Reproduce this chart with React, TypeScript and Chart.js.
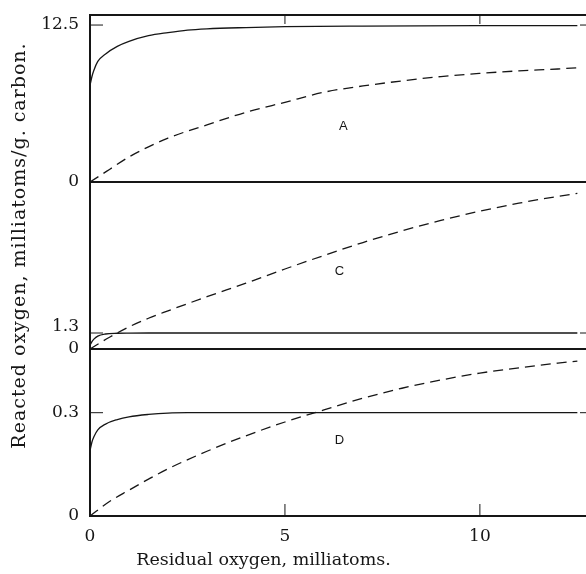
import React, { useEffect, useRef } from 'react';
import { Chart, registerables } from 'chart.js';

Chart.register(...registerables);

// ---- data ----
const xSolid = [0, 0.05, 0.1, 0.2, 0.4, 0.7, 1, 1.5, 2, 2.5, 3, 4, 5, 7, 10, 12.5];
const solidA = [7.7, 8.4, 8.9, 9.6, 10.2, 10.8, 11.2, 11.65, 11.9, 12.1, 12.2, 12.3, 12.37, 12.42, 12.45, 12.45];
const solidC = [0.3, 0.6, 0.8, 1.05, 1.22, 1.28, 1.295, 1.3, 1.3, 1.3, 1.3, 1.3, 1.3, 1.3, 1.3, 1.3];
const solidD = [0.19, 0.215, 0.23, 0.25, 0.267, 0.28, 0.288, 0.295, 0.299, 0.3, 0.3, 0.3, 0.3, 0.3, 0.3, 0.3];

const xDashed = [0, 0.5, 1, 1.5, 2, 3, 4, 5, 6, 7, 8, 9, 10, 11, 12, 12.5];
const dashedA = [0, 1.0, 2.0, 2.8, 3.5, 4.55, 5.55, 6.35, 7.15, 7.65, 8.05, 8.4, 8.65, 8.85, 9.0, 9.1];
const dashedC = [0, 0.95, 1.8, 2.5, 3.1, 4.25, 5.35, 6.5, 7.6, 8.65, 9.6, 10.45, 11.2, 11.85, 12.4, 12.65];
const dashedD = [0, 0.042, 0.075, 0.107, 0.137, 0.188, 0.233, 0.273, 0.308, 0.342, 0.371, 0.395, 0.415, 0.43, 0.444, 0.45];

const xTicks = [0, 5, 10];
const yTicksA = [0, 12.5];
const yTicksC = [0, 1.3];
const yTicksD = [0, 0.3];

const panelNames = ['A', 'C', 'D'];
const xTitle = 'Residual oxygen, milliatoms.';
const yTitle = 'Reacted oxygen, milliatoms/g. carbon.';

const INK = '#161616';
const SERIF = '"DejaVu Serif", serif';

function pts(xs: number[], ys: number[]) {
  return xs.map((x, i) => ({ x, y: ys[i] }));
}

function line(ctx: CanvasRenderingContext2D, x1: number, y1: number, x2: number, y2: number) {
  ctx.beginPath();
  ctx.moveTo(x1, y1);
  ctx.lineTo(x2, y2);
  ctx.stroke();
}

const framePlugin = {
  id: 'frame',
  afterDraw(chart: any) {
    const { ctx, chartArea, scales } = chart;
    const x = scales.x;
    const yA = scales.yA, yC = scales.yC, yD = scales.yD;
    ctx.save();
    ctx.strokeStyle = INK;
    ctx.lineWidth = 2;
    for (const yy of [yA.top, yA.bottom, yC.bottom, yD.bottom]) {
      line(ctx, chartArea.left - 1, yy, chartArea.right + 1, yy);
    }
    line(ctx, chartArea.left, chartArea.top - 1, chartArea.left, chartArea.bottom + 1);
    line(ctx, chartArea.right, chartArea.top - 1, chartArea.right, chartArea.bottom + 1);

    ctx.lineWidth = 1;
    for (const v of xTicks.slice(1)) {
      const px = x.getPixelForValue(v);
      line(ctx, px, yD.bottom, px, yD.bottom - 12);
      line(ctx, px, yA.top, px, yA.top + 9);
    }
    const yt: [any, number][] = [[yA, yTicksA[1]], [yC, yTicksC[1]], [yD, yTicksD[1]]];
    for (const [s, v] of yt) {
      const py = s.getPixelForValue(v);
      line(ctx, chartArea.left, py, chartArea.left + 13, py);
      line(ctx, chartArea.right - 11, py, chartArea.right, py);
    }

    // panel letters
    ctx.fillStyle = INK;
    ctx.font = '13px "Liberation Sans", Arial, sans-serif';
    ctx.textAlign = 'center';
    ctx.textBaseline = 'middle';
    const labelPos: [any, number, number][] = [[yA, 6.5, 4.4], [yC, 6.4, 6.3], [yD, 6.4, 0.22]];
    labelPos.forEach(([s, xv, yv], i) => {
      ctx.fillText(panelNames[i], x.getPixelForValue(xv), s.getPixelForValue(yv));
    });

    // axis titles
    ctx.font = '17.5px ' + SERIF;
    ctx.fillText(xTitle, x.getPixelForValue(4.45), yD.bottom + 44);
    ctx.save();
    ctx.font = '19px ' + SERIF;
    try { (ctx as any).letterSpacing = '1px'; } catch (e) {}
    ctx.translate(20, (yA.top + yD.bottom) / 2 - 20);
    ctx.rotate(-Math.PI / 2);
    ctx.fillText(yTitle, 0, 0);
    ctx.restore();
    ctx.restore();
  },
};

function yScale(ticks: number[], max: number, liftTop: boolean) {
  return {
    type: 'linear',
    position: 'left',
    stack: 'panels',
    stackWeight: 1,
    min: 0,
    max,
    grid: { display: false, drawTicks: false },
    border: { display: false },
    afterFit: (s: any) => { s.width = 90; s.paddingTop = 0; s.paddingBottom = 0; },
    afterBuildTicks: (s: any) => { s.ticks = ticks.map((v) => ({ value: v })); },
    ticks: {
      autoSkip: false,
      padding: 11,
      color: INK,
      font: { family: SERIF, size: 17, lineHeight: 0.75 },
      callback: (v: any) => (liftTop && v !== 0 ? [String(v), ''] : String(v)),
    },
  };
}

export default function App() {
  const ref = useRef<HTMLCanvasElement>(null);
  useEffect(() => {
    const solid = { borderColor: INK, borderWidth: 1.3, pointRadius: 0, cubicInterpolationMode: 'monotone', fill: false };
    const dashed = { ...solid, borderDash: [10, 6] };
    const chart = new Chart(ref.current as HTMLCanvasElement, {
      type: 'line',
      data: {
        datasets: [
          { ...solid, label: 'A solid', data: pts(xSolid, solidA), yAxisID: 'yA' },
          { ...dashed, label: 'A dashed', data: pts(xDashed, dashedA), yAxisID: 'yA' },
          { ...solid, label: 'C solid', data: pts(xSolid, solidC), yAxisID: 'yC' },
          { ...dashed, label: 'C dashed', data: pts(xDashed, dashedC), yAxisID: 'yC' },
          { ...solid, label: 'D solid', data: pts(xSolid, solidD), yAxisID: 'yD' },
          { ...dashed, label: 'D dashed', data: pts(xDashed, dashedD), yAxisID: 'yD' },
        ] as any,
      },
      options: {
        responsive: false,
        animation: false,
        events: [],
        layout: { padding: { top: 15, right: 9, left: 0, bottom: 0 } },
        plugins: { legend: { display: false }, tooltip: { enabled: false }, title: { display: false } },
        scales: {
          x: {
            type: 'linear',
            position: 'bottom',
            min: 0,
            max: 12.85,
            grid: { display: false, drawTicks: false },
            border: { display: false },
            afterFit: (s: any) => { s.height = 58; s.paddingLeft = 0; s.paddingRight = 0; },
            afterBuildTicks: (s: any) => { s.ticks = xTicks.map((v) => ({ value: v })); },
            ticks: { padding: 10, color: INK, font: { family: SERIF, size: 17 }, maxRotation: 0, autoSkip: false, callback: (v: any) => String(v) },
          },
          yD: yScale(yTicksD, 0.485, false),
          yC: yScale(yTicksC, 13.57, true),
          yA: yScale(yTicksA, 13.3, false),
        } as any,
      },
      plugins: [framePlugin],
    });
    return () => chart.destroy();
  }, []);
  return (
    <div style={{ position: 'absolute', left: 0, top: 0, width: 586, height: 574, overflow: 'hidden', background: '#fff' }}>
      <canvas ref={ref} width={600} height={574} style={{ display: 'block' }} />
    </div>
  );
}
